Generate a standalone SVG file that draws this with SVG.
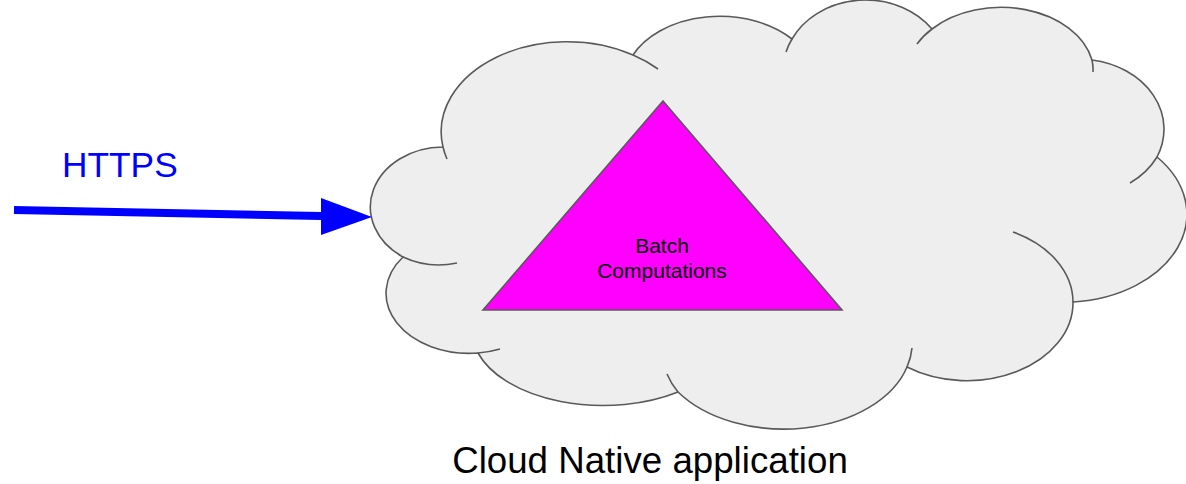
<svg xmlns="http://www.w3.org/2000/svg" width="1186" height="484" viewBox="0 0 1186 484">
<style>
.outline{fill:#eeeeee;stroke:#595959;stroke-width:1.6}
.stub{fill:none;stroke:#595959;stroke-width:1.6}
.tri{fill:#ff00ff;stroke:#595959;stroke-width:1.6;stroke-linejoin:miter}
.lbl{font-family:"Liberation Sans",Arial,sans-serif;text-anchor:middle}
</style>
<g id="cloud">
<path class="outline" d="M403 257 A73 60 0 0 1 443 147 A126 90 0 0 1 633 55 A95 65 0 0 1 792 39 A82 70 0 0 1 932 29 A93 66 0 0 1 1092 60 A85 70 0 0 1 1157 157 A124 88 0 0 1 1073 302 A106 78 0 0 1 907 367 A128 85 0 0 1 678 392 A131 75 0 0 1 478 353 A83 60 0 0 1 403 257 Z"/>
<path class="stub" d="M447 159 A126 90 0 0 1 443 147 M633 55 A126 90 0 0 1 658 69 M786 52 A82 70 0 0 1 792 39 M917 44 A93 66 0 0 1 932 29 M1092 60 A93 66 0 0 1 1093 72 M1157 157 A85 70 0 0 1 1130 183 M1013 232 A106 78 0 0 1 1073 302 M912 348 A128 85 0 0 1 907 367 M678 392 A128 85 0 0 1 667 374 M500 349 A83 60 0 0 1 478 353 M457 263 A73 60 0 0 1 403 257"/>
<text class="lbl" x="650" y="473" font-size="36.7" fill="#000000">Cloud Native application</text>
</g>
<g id="batch">
<path class="tri" d="M663 101 L842 310 L483 310 Z"/>
<text class="lbl" x="662" y="253" font-size="21" fill="#000000">Batch</text>
<text class="lbl" x="662" y="278" font-size="21" fill="#000000">Computations</text>
</g>
<g id="connectors">
<path d="M14 210 L321 216" stroke="#0000ff" stroke-width="8" fill="none"/>
<path d="M321 198 L372 217 L321 235 Z" fill="#0000ff"/>
<text x="62" y="177" font-family="'Liberation Sans',Arial,sans-serif" font-size="35.3" fill="#0000ff">HTTPS</text>
</g>
</svg>
